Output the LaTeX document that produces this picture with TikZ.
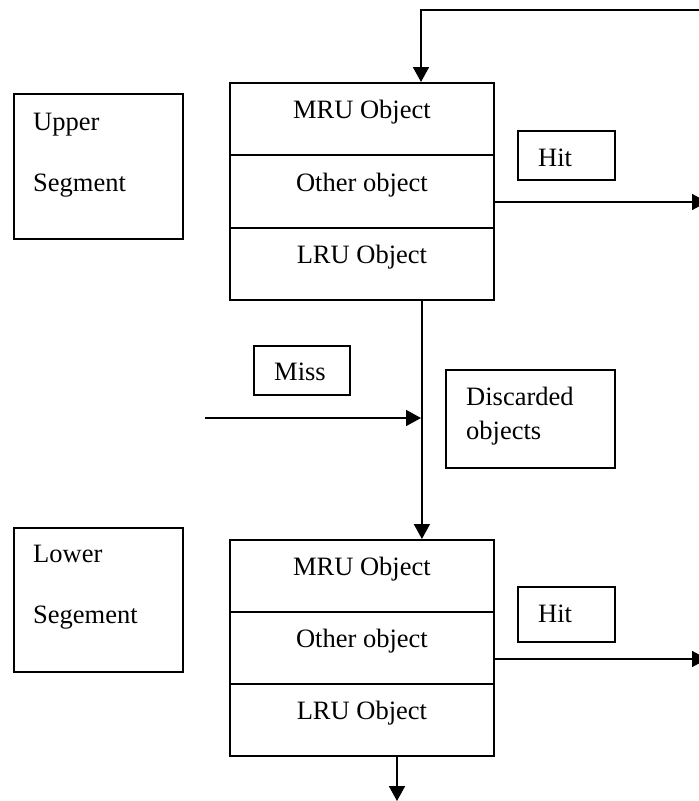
\documentclass[tikz,border=0pt]{standalone}
\usepackage{fontspec}
\setmainfont{Liberation Serif}
\usetikzlibrary{arrows.meta}
\begin{document}
\begin{tikzpicture}[x=1pt,y=-1pt,
  every node/.style={font=\fontsize{26.5}{30}\selectfont},
  cell/.style={draw,line width=1.8pt,minimum width=264pt,minimum height=72pt,inner sep=0pt,text height=8pt,text depth=8pt,anchor=north west},
  boxx/.style={draw,line width=1.8pt,inner sep=0pt,anchor=north west},
  txt/.style={inner sep=0pt,anchor=base west},
  conn/.style={line width=1.8pt},
  arr/.style={line width=1.8pt,-{Triangle[length=15pt,width=16pt]}}]
\useasboundingbox (0,0) rectangle (699,801);
\clip (0,0) rectangle (699,801);
% upper stack
\node[cell] (mruU) at (229,82) {MRU Object};
\node[cell,minimum height=73pt] (othU) at (229,154) {Other object};
\node[cell] (lruU) at (229,227) {LRU Object};
% lower stack
\node[cell] (mruL) at (229,539) {MRU Object};
\node[cell] (othL) at (229,611) {Other object};
\node[cell] (lruL) at (229,683) {LRU Object};
% segment boxes
\node[boxx,minimum width=169pt,minimum height=145pt] (segU) at (13,93) {};
\node[txt] (segUa) at (33,130) {Upper};
\node[txt] (segUb) at (33,191) {Segment};
\node[boxx,minimum width=169pt,minimum height=144pt] (segL) at (13,527) {};
\node[txt] (segLa) at (33,562) {Lower};
\node[txt] (segLb) at (33,623) {Segement};
% hit boxes
\node[boxx,minimum width=97pt,minimum height=49pt] (hitU) at (517,130) {};
\node[txt] (hitUt) at (538,166) {Hit};
\node[boxx,minimum width=97pt,minimum height=55pt] (hitL) at (517,586) {};
\node[txt] (hitLt) at (538,622) {Hit};
% miss box
\node[boxx,minimum width=96pt,minimum height=49pt] (miss) at (253,345) {};
\node[txt] (misst) at (274,380) {Miss};
% discarded box
\node[boxx,minimum width=169pt,minimum height=98pt] (disc) at (445,369) {};
\node[txt] (disca) at (466,405) {Discarded};
\node[txt] (discb) at (466,439) {objects};
% coordinates
\coordinate (topstart) at (710,10);
\coordinate (topcorner) at (421,10);
\coordinate (missstart) at (205,418);
\coordinate (missend) at (421,418);
\coordinate (hitUend) at (707,202);
\coordinate (hitLend) at (707,659);
\coordinate (bottomend) at (397,801);
% connectors
\draw[arr] (topstart) -- (topcorner) -- (topcorner |- mruU.north);
\draw[conn] ([xshift=60pt]lruU.south) -- ([xshift=60pt]lruU.south |- missend);
\draw[arr] ([xshift=60pt]lruU.south |- missend) -- ([xshift=60pt]mruL.north);
\draw[arr] (missstart) -- (missend);
\draw[arr] (othU.east |- hitUend) -- (hitUend);
\draw[arr] (othL.east |- hitLend) -- (hitLend);
\draw[arr] (lruL.south -| bottomend) -- (bottomend);
\end{tikzpicture}
\end{document}
